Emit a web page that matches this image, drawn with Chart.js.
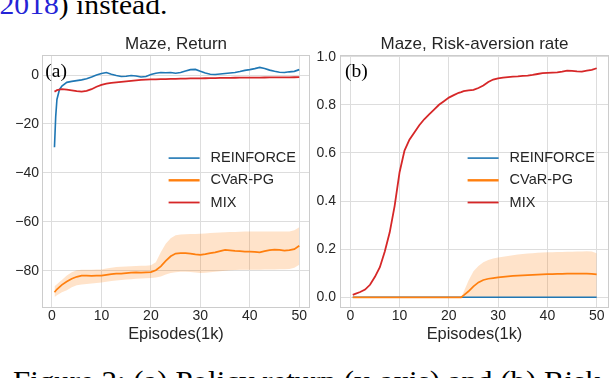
<!DOCTYPE html>
<html><head><meta charset="utf-8">
<script src="https://cdn.jsdelivr.net/npm/chart.js@4.4.1/dist/chart.umd.min.js"></script>
<style>
html,body{margin:0;padding:0;background:#fff;}
body{width:612px;height:378px;position:relative;overflow:hidden;}
#c1{position:absolute;left:0;top:30px;}
#c2{position:absolute;left:312px;top:30px;}
svg{position:absolute;left:0;top:0;}
</style></head><body>
<svg width="612" height="378">
  <text x="-0.5" y="14" font-family="'Liberation Serif', 'DejaVu Serif', serif" font-size="28" fill="#000" textLength="168" lengthAdjust="spacingAndGlyphs"><tspan fill="#2424d6">2018</tspan>) instead.</text>
  <text x="13" y="391" font-family="'Liberation Serif', 'DejaVu Serif', serif" font-size="29" fill="#000" textLength="598" lengthAdjust="spacingAndGlyphs">Figure 2: (a) Policy return (y-axis) and (b) Risk-</text>
</svg>
<canvas id="c1" width="312" height="320"></canvas>
<canvas id="c2" width="300" height="320"></canvas>
<script>
// ---------- data ----------
const seriesNames = ['REINFORCE', 'CVaR-PG', 'MIX'];
const episodeTicks = [0, 10, 20, 30, 40, 50];
const returnTicks = [-80, -60, -40, -20, 0];
const rateTicks = [0, 0.2, 0.4, 0.6, 0.8, 1.0];

const leftEpisodes = [0.5,0.75,1,1.5,2,3,4,5,6,7,8,9,10,11,12,13,14,15,16,17,18,19,20,21,22,23,24,25,26,27,28,29,30,31,32,33,34,35,36,37,38,39,40,41,42,43,44,45,46,47,48,49,50];
const reinforceReturn = [-29.5,-17,-10,-6,-4.5,-3.0,-2.6,-2.3,-2.0,-1.5,-0.8,0.0,0.6,1.0,0.3,-0.2,-0.6,-0.5,-0.2,-0.4,-0.8,-0.6,0.2,0.7,1.0,0.9,1.0,0.7,1.0,1.6,2.2,2.3,1.5,0.8,0.3,0.2,0.4,0.6,0.8,1.0,1.4,1.9,2.2,2.6,3.1,2.7,2.0,1.5,1.1,1.0,1.3,1.5,2.2];
const cvarReturn = [-88.8,-88.2,-87.6,-86.7,-85.8,-84.4,-83.3,-82.5,-82.0,-82.0,-82.1,-82.0,-82.0,-81.7,-81.4,-81.2,-81.2,-81.0,-80.8,-80.7,-80.8,-80.7,-80.6,-79.8,-78.2,-76.0,-74.1,-73.0,-72.8,-72.8,-73.0,-73.3,-73.5,-73.2,-72.8,-72.5,-72.0,-71.5,-71.7,-71.9,-72.0,-72.2,-72.2,-72.3,-72.5,-72.0,-71.6,-71.4,-71.5,-71.8,-71.6,-71.2,-69.8];
const cvarReturnUpper = [-86.4,-86.0,-85.5,-84.6,-83.8,-82.0,-80.6,-79.8,-79.6,-79.6,-79.6,-79.5,-79.5,-79.1,-78.8,-78.5,-78.4,-78.3,-78.2,-78.1,-78.0,-78.0,-77.8,-76.5,-72.5,-69.0,-66.7,-65.5,-65.2,-65.1,-65.0,-65.0,-64.9,-64.8,-64.6,-64.5,-64.4,-64.3,-64.2,-64.2,-64.1,-64.0,-64.0,-64.0,-64.0,-64.0,-64.0,-64.0,-64.0,-64.0,-64.0,-63.5,-62.2];
const cvarReturnLower = [-90.7,-90.4,-90.0,-89.4,-88.8,-88.0,-86.8,-86.0,-85.6,-85.4,-85.2,-85.0,-84.8,-84.5,-84.2,-84.0,-83.8,-83.6,-83.5,-83.3,-83.2,-83.1,-83.0,-82.8,-82.4,-81.6,-80.9,-80.6,-80.4,-80.4,-80.5,-80.7,-80.9,-80.8,-80.6,-80.4,-80.2,-80.0,-79.8,-79.7,-79.6,-79.6,-79.6,-79.6,-79.6,-79.5,-79.5,-79.5,-79.4,-79.4,-79.3,-78.8,-77.6];
const mixReturn = [-6.8,-6.5,-6.2,-6.0,-5.8,-6.0,-6.3,-6.6,-6.8,-6.5,-5.8,-4.8,-4.0,-3.5,-3.2,-3.0,-2.8,-2.6,-2.4,-2.2,-2.0,-1.9,-1.8,-1.75,-1.7,-1.65,-1.6,-1.55,-1.5,-1.45,-1.4,-1.38,-1.35,-1.32,-1.3,-1.25,-1.2,-1.18,-1.15,-1.12,-1.1,-1.1,-1.1,-1.08,-1.05,-1.02,-1.0,-1.0,-1.0,-0.98,-0.95,-0.92,-0.9];

const rightEpisodes = [0.5,1,2,3,4,5,6,7,8,9,10,11,12,13,14,15,16,17,18,19,20,21,22,22.5,23,24,25,26,27,28,29,30,31,32,33,34,35,36,37,38,39,40,41,42,43,44,45,46,47,48,49,50];
const reinforceRate = [0,0,0,0,0,0,0,0,0,0,0,0,0,0,0,0,0,0,0,0,0,0,0,0,0,0,0,0,0,0,0,0,0,0,0,0,0,0,0,0,0,0,0,0,0,0,0,0,0,0,0,0];
const cvarRate = [0,0,0,0,0,0,0,0,0,0,0,0,0,0,0,0,0,0,0,0,0,0,0,0,0.008,0.025,0.045,0.062,0.072,0.077,0.080,0.083,0.085,0.087,0.089,0.090,0.091,0.092,0.093,0.094,0.095,0.096,0.096,0.097,0.097,0.098,0.098,0.098,0.098,0.098,0.097,0.095];
const cvarRateUpper = [0,0,0,0,0,0,0,0,0,0,0,0,0,0,0,0,0,0,0,0,0,0,0,0,0.022,0.070,0.108,0.130,0.146,0.155,0.161,0.165,0.169,0.172,0.175,0.178,0.180,0.182,0.183,0.185,0.186,0.187,0.187,0.188,0.188,0.189,0.189,0.190,0.190,0.191,0.190,0.183];
const cvarRateLower = [0,0,0,0,0,0,0,0,0,0,0,0,0,0,0,0,0,0,0,0,0,0,0,0,0,0,0,0,0,0,0,0,0,0,0,0,0,0,0,0,0,0,0,0,0,0,0,0,0,0,0,0];
const mixRate = [0.010,0.014,0.022,0.032,0.052,0.085,0.125,0.19,0.27,0.38,0.52,0.61,0.655,0.685,0.715,0.74,0.76,0.78,0.80,0.815,0.83,0.84,0.85,0.853,0.857,0.86,0.862,0.87,0.88,0.895,0.905,0.91,0.913,0.915,0.917,0.918,0.92,0.921,0.924,0.928,0.932,0.933,0.934,0.935,0.938,0.942,0.941,0.939,0.938,0.942,0.945,0.952];

// ---------- style ----------
const FONT = "'Liberation Sans', Arial, sans-serif";
const SERIF = "'Liberation Serif', 'DejaVu Serif', serif";
const TICK = '#262626';
const GRID = '#dddddd';
const FRAME = '#cccccc';
const BLUE = '#1f77b4', ORANGE = '#ff7f0e', RED = '#d62728';
const BAND = 'rgba(255,127,14,0.22)';

function pts(xs, ys) { return xs.map((x, i) => ({x: x, y: ys[i]})); }

const framePlugin = {
  id: 'frame',
  beforeDatasetsDraw(chart) {
    const {ctx, chartArea: a} = chart;
    ctx.save();
    ctx.strokeStyle = FRAME; ctx.lineWidth = 1;
    ctx.strokeRect(a.left + 0.5, a.top + 0.5, a.right - a.left - 1, a.bottom - a.top - 1);
    ctx.restore();
  }
};
const insideLegend = {
  id: 'insideLegend',
  afterDatasetsDraw(chart, args, opts) {
    const {ctx, chartArea: a} = chart;
    const items = chart.data.datasets.filter(d => !d.band);
    ctx.save();
    ctx.font = opts.fontSize + 'px ' + FONT;
    const maxW = Math.max(...items.map(d => ctx.measureText(d.label).width));
    const textX = a.right - opts.rightInset - maxW;
    const cy = (a.top + a.bottom) / 2 + opts.dy;
    items.forEach((d, i) => {
      const y = cy + (i - (items.length - 1) / 2) * opts.rowGap;
      ctx.strokeStyle = d.borderColor; ctx.lineWidth = d.legendWidth || d.borderWidth;
      ctx.beginPath();
      ctx.moveTo(textX - opts.textGap - opts.handle, y);
      ctx.lineTo(textX - opts.textGap, y);
      ctx.stroke();
      ctx.fillStyle = TICK; ctx.textBaseline = 'middle'; ctx.textAlign = 'left';
      ctx.fillText(d.label, textX, y);
    });
    ctx.restore();
  }
};
const panelLabel = {
  id: 'panelLabel',
  afterDatasetsDraw(chart, args, opts) {
    const {ctx, chartArea: a} = chart;
    ctx.save();
    ctx.font = opts.size + 'px ' + SERIF;
    ctx.fillStyle = '#000'; ctx.textBaseline = 'alphabetic'; ctx.textAlign = 'left';
    ctx.fillText(opts.text, a.left + opts.dx, a.top + opts.dy);
    ctx.restore();
  }
};

function makeChart(canvas, cfg) {
  const datasets = [
    {label: seriesNames[0], data: pts(cfg.xs, cfg.blue), borderColor: BLUE, borderWidth: 1.6, pointRadius: 0, fill: false, order: 3},
    {label: seriesNames[1], data: pts(cfg.xs, cfg.orange), borderColor: ORANGE, borderWidth: 1.7, legendWidth: 2.4, pointRadius: 0, fill: false, order: 2},
    {label: seriesNames[2], data: pts(cfg.xs, cfg.red), borderColor: RED, borderWidth: 1.8, pointRadius: 0, fill: false, order: 1},
    {label: 'CVaR-PG lower', band: true, data: pts(cfg.xs, cfg.lower), borderColor: 'rgba(0,0,0,0)', borderWidth: 1, pointRadius: 0, fill: false, order: 5},
    {label: 'CVaR-PG upper', band: true, data: pts(cfg.xs, cfg.upper), borderColor: 'rgba(0,0,0,0)', borderWidth: 1, pointRadius: 0, fill: '-1', backgroundColor: BAND, order: 4}
  ];
  return new Chart(canvas, {
    type: 'line',
    data: {datasets: datasets},
    plugins: [framePlugin, insideLegend, panelLabel],
    options: {
      responsive: false,
      animation: false,
      layout: {padding: {left: 0, right: cfg.padRight, top: 0, bottom: 0}},
      scales: {
        x: {
          type: 'linear', min: cfg.xMin, max: cfg.xMax,
          afterBuildTicks: s => { s.ticks = episodeTicks.map(v => ({value: v})); },
          afterFit: s => { s.height = 42; },
          grid: {color: GRID, lineWidth: 1, drawTicks: false},
          border: {display: false},
          ticks: {padding: 0, color: TICK, maxRotation: 0, font: {family: FONT, size: 14}, callback: v => String(v)},
          title: {display: true, text: 'Episodes(1k)', color: TICK, font: {family: FONT, size: 16.4}, padding: {top: 0, bottom: 6}}
        },
        y: {
          type: 'linear', min: cfg.yMin, max: cfg.yMax,
          afterBuildTicks: s => { s.ticks = cfg.yTicks.map(v => ({value: v})); },
          afterFit: s => { s.width = cfg.yWidth; },
          grid: {color: GRID, lineWidth: 1, drawTicks: false},
          border: {display: false},
          ticks: {padding: cfg.yPad, color: TICK, font: {family: FONT, size: 14}, callback: cfg.yFmt}
        }
      },
      plugins: {
        legend: {display: false},
        tooltip: {enabled: false},
        title: {display: true, fullSize: false, text: cfg.title, color: TICK, font: {family: FONT, size: 17, weight: 'normal'}, padding: {top: 4.3, bottom: 0.3}},
        insideLegend: {fontSize: 14.5, rightInset: 14, textGap: 11, handle: 31, rowGap: 22.2, dy: -1.2},
        panelLabel: {text: cfg.panel, size: 19.5, dx: cfg.panelDx, dy: 22.4}
      }
    }
  });
}

makeChart(document.getElementById('c1'), {
  xs: leftEpisodes, blue: reinforceReturn, orange: cvarReturn, red: mixReturn,
  upper: cvarReturnUpper, lower: cvarReturnLower,
  xMin: -2.02, xMax: 52.17, yMin: -95.25, yMax: 8.18, yTicks: returnTicks,
  yWidth: 42, yPad: 3, padRight: 2,
  yFmt: v => v < 0 ? '\u2212' + Math.abs(v) : String(v),
  title: 'Maze, Return', panel: '(a)', panelDx: 3.3
});
makeChart(document.getElementById('c2'), {
  xs: rightEpisodes, blue: reinforceRate, orange: cvarRate, red: mixRate,
  upper: cvarRateUpper, lower: cvarRateLower,
  xMin: -2.09, xMax: 52.5, yMin: -0.0445, yMax: 1.007, yTicks: rateTicks,
  yWidth: 28, yPad: 4, padRight: 3,
  yFmt: v => v.toFixed(1),
  title: 'Maze, Risk-aversion rate', panel: '(b)', panelDx: 5
});
</script>
</body></html>
